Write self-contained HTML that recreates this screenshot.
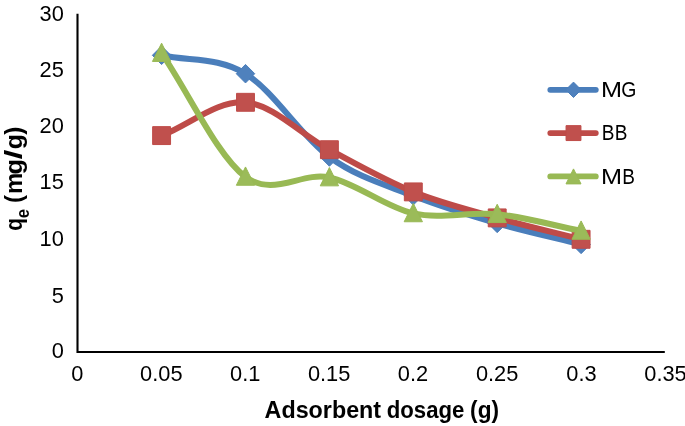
<!DOCTYPE html>
<html lang="en"><head><meta charset="utf-8"><title>Adsorbent dosage chart</title>
<style>html,body{margin:0;padding:0;background:#fff}svg{display:block}</style></head>
<body>
<svg width="685" height="426" viewBox="0 0 685 426">
<rect width="685" height="426" fill="#fff"/>
<path d="M77.5 13.8 V352.0 H664.8" fill="none" stroke="#000" stroke-width="2.1"/>
<g font-family="'Liberation Sans', sans-serif" font-size="21.8" fill="#000">
<text x="63.80" y="358.00" text-anchor="end">0</text>
<text x="63.80" y="303.00" text-anchor="end">5</text>
<text x="63.80" y="246.00" text-anchor="end">10</text>
<text x="63.80" y="189.00" text-anchor="end">15</text>
<text x="63.80" y="133.00" text-anchor="end">20</text>
<text x="63.80" y="77.00" text-anchor="end">25</text>
<text x="63.80" y="21.00" text-anchor="end">30</text>
<text x="77.40" y="381.00" text-anchor="middle">0</text>
<text x="161.30" y="381.00" text-anchor="middle">0.05</text>
<text x="245.20" y="381.00" text-anchor="middle">0.1</text>
<text x="329.10" y="381.00" text-anchor="middle">0.15</text>
<text x="413.00" y="381.00" text-anchor="middle">0.2</text>
<text x="497.10" y="381.00" text-anchor="middle">0.25</text>
<text x="581.50" y="381.00" text-anchor="middle">0.3</text>
<text x="665.50" y="381.00" text-anchor="middle">0.35</text>
<text y="97"><tspan x="601.00" textLength="21.06" lengthAdjust="spacingAndGlyphs">M</tspan><tspan x="621.26" textLength="15.14" lengthAdjust="spacingAndGlyphs">G</tspan></text>
<text y="140"><tspan x="601.70" textLength="12.69" lengthAdjust="spacingAndGlyphs">B</tspan><tspan x="614.80" textLength="12.69" lengthAdjust="spacingAndGlyphs">B</tspan></text>
<text y="184"><tspan x="601.00" textLength="21.06" lengthAdjust="spacingAndGlyphs">M</tspan><tspan x="622.30" textLength="12.69" lengthAdjust="spacingAndGlyphs">B</tspan></text>
</g>
<g font-family="'Liberation Sans', sans-serif" font-weight="bold" fill="#000" font-size="23">
<text transform="translate(264.6 417.8) scale(1 1.04)"><tspan textLength="116.5" lengthAdjust="spacingAndGlyphs">Adsorbent</tspan> <tspan x="122.2" textLength="77.6" lengthAdjust="spacingAndGlyphs">dosage</tspan> <tspan x="205.5" textLength="28.9" lengthAdjust="spacingAndGlyphs">(g)</tspan></text>
<text transform="translate(21.6 230.6) rotate(-90) scale(1 1.08)"><tspan x="-0.05" textLength="12.63" lengthAdjust="spacingAndGlyphs">q</tspan><tspan x="12.45" textLength="9.21" lengthAdjust="spacingAndGlyphs" dy="6.9" font-size="17">e</tspan> <tspan x="27.58" textLength="8.14" lengthAdjust="spacingAndGlyphs" dy="-6.9">(</tspan><tspan x="36.62" textLength="21.38" lengthAdjust="spacingAndGlyphs">m</tspan><tspan x="56.06" textLength="15.42" lengthAdjust="spacingAndGlyphs">g</tspan><tspan x="71.26" textLength="9.68" lengthAdjust="spacingAndGlyphs">/</tspan><tspan x="81.48" textLength="15.18" lengthAdjust="spacingAndGlyphs">g</tspan><tspan x="95.88" textLength="8.14" lengthAdjust="spacingAndGlyphs">)</tspan></text>
</g>
<path d="M161.60 55.30 C189.57 61.43 217.53 56.75 245.50 73.70 C273.47 90.65 301.43 136.65 329.40 157.00 C357.37 177.35 385.33 184.73 413.30 195.80 C441.27 206.87 469.23 215.30 497.20 223.40 C525.17 231.50 553.13 237.40 581.10 244.40" fill="none" stroke="#4A7EBB" stroke-width="6" stroke-linecap="round" stroke-linejoin="round"/>
<path d="M161.60 46.05 L170.85 55.30 L161.60 64.55 L152.35 55.30Z" fill="#4F81BD" stroke="#4A7EBB" stroke-width="1" stroke-linejoin="round"/>
<path d="M245.50 64.45 L254.75 73.70 L245.50 82.95 L236.25 73.70Z" fill="#4F81BD" stroke="#4A7EBB" stroke-width="1" stroke-linejoin="round"/>
<path d="M329.40 147.75 L338.65 157.00 L329.40 166.25 L320.15 157.00Z" fill="#4F81BD" stroke="#4A7EBB" stroke-width="1" stroke-linejoin="round"/>
<path d="M413.30 186.55 L422.55 195.80 L413.30 205.05 L404.05 195.80Z" fill="#4F81BD" stroke="#4A7EBB" stroke-width="1" stroke-linejoin="round"/>
<path d="M497.20 214.15 L506.45 223.40 L497.20 232.65 L487.95 223.40Z" fill="#4F81BD" stroke="#4A7EBB" stroke-width="1" stroke-linejoin="round"/>
<path d="M581.10 235.15 L590.35 244.40 L581.10 253.65 L571.85 244.40Z" fill="#4F81BD" stroke="#4A7EBB" stroke-width="1" stroke-linejoin="round"/>
<path d="M161.60 135.60 C189.57 124.50 217.53 99.95 245.50 102.30 C273.47 104.65 301.43 134.77 329.40 149.70 C357.37 164.63 385.33 180.53 413.30 191.90 C441.27 203.27 469.23 210.00 497.20 217.90 C525.17 225.80 553.13 232.17 581.10 239.30" fill="none" stroke="#BE4B48" stroke-width="6" stroke-linecap="round" stroke-linejoin="round"/>
<rect x="152.65" y="126.65" width="17.90" height="17.90" fill="#C0504D" stroke="#BE4B48" stroke-width="1" stroke-linejoin="round"/>
<rect x="236.55" y="93.35" width="17.90" height="17.90" fill="#C0504D" stroke="#BE4B48" stroke-width="1" stroke-linejoin="round"/>
<rect x="320.45" y="140.75" width="17.90" height="17.90" fill="#C0504D" stroke="#BE4B48" stroke-width="1" stroke-linejoin="round"/>
<rect x="404.35" y="182.95" width="17.90" height="17.90" fill="#C0504D" stroke="#BE4B48" stroke-width="1" stroke-linejoin="round"/>
<rect x="488.25" y="208.95" width="17.90" height="17.90" fill="#C0504D" stroke="#BE4B48" stroke-width="1" stroke-linejoin="round"/>
<rect x="572.15" y="230.35" width="17.90" height="17.90" fill="#C0504D" stroke="#BE4B48" stroke-width="1" stroke-linejoin="round"/>
<path d="M161.60 53.10 C189.57 94.37 217.53 156.17 245.50 176.90 C273.47 197.63 301.43 171.42 329.40 177.50 C357.37 183.58 385.33 207.28 413.30 213.40 C441.27 219.52 469.23 211.28 497.20 214.20 C525.17 217.12 553.13 225.33 581.10 230.90" fill="none" stroke="#98B954" stroke-width="6" stroke-linecap="round" stroke-linejoin="round"/>
<path d="M161.60 43.15 L170.75 61.45 L152.45 61.45Z" fill="#9BBB59" stroke="#98B954" stroke-width="1" stroke-linejoin="round"/>
<path d="M245.50 166.95 L254.65 185.25 L236.35 185.25Z" fill="#9BBB59" stroke="#98B954" stroke-width="1" stroke-linejoin="round"/>
<path d="M329.40 167.55 L338.55 185.85 L320.25 185.85Z" fill="#9BBB59" stroke="#98B954" stroke-width="1" stroke-linejoin="round"/>
<path d="M413.30 203.45 L422.45 221.75 L404.15 221.75Z" fill="#9BBB59" stroke="#98B954" stroke-width="1" stroke-linejoin="round"/>
<path d="M497.20 204.25 L506.35 222.55 L488.05 222.55Z" fill="#9BBB59" stroke="#98B954" stroke-width="1" stroke-linejoin="round"/>
<path d="M581.10 220.95 L590.25 239.25 L571.95 239.25Z" fill="#9BBB59" stroke="#98B954" stroke-width="1" stroke-linejoin="round"/>
<path d="M550.3 89.8 H595.8" stroke="#4A7EBB" stroke-width="5.8" stroke-linecap="round" fill="none"/>
<path d="M573.50 82.10 L581.20 89.80 L573.50 97.50 L565.80 89.80Z" fill="#4F81BD" stroke="#4A7EBB" stroke-width="1" stroke-linejoin="round"/>
<path d="M550.3 133.1 H595.8" stroke="#BE4B48" stroke-width="5.8" stroke-linecap="round" fill="none"/>
<rect x="566.05" y="125.65" width="14.90" height="14.90" fill="#C0504D" stroke="#BE4B48" stroke-width="1" stroke-linejoin="round"/>
<path d="M550.3 176.4 H595.8" stroke="#98B954" stroke-width="5.8" stroke-linecap="round" fill="none"/>
<path d="M573.50 168.90 L581.00 183.90 L566.00 183.90Z" fill="#9BBB59" stroke="#98B954" stroke-width="1" stroke-linejoin="round"/>
</svg>
</body></html>
